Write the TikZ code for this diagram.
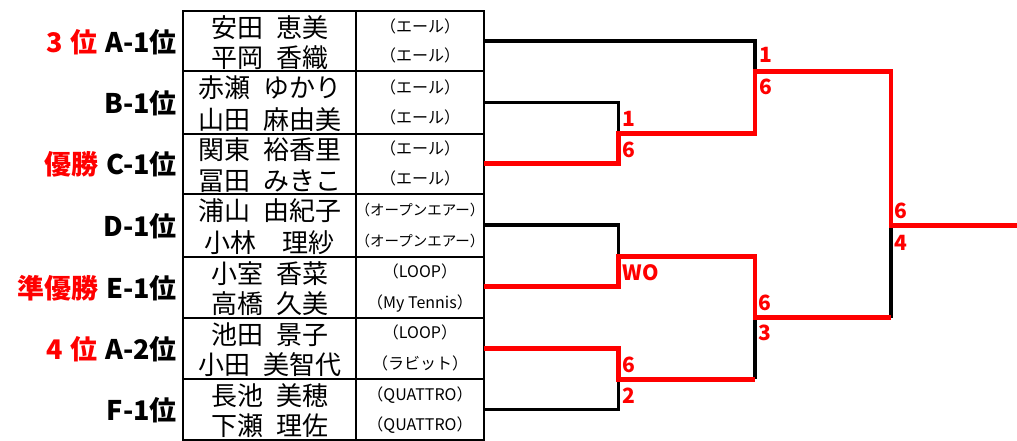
\documentclass[tikz,border=0pt]{standalone}
\usepackage{fontspec}
\setmainfont{Noto Sans CJK JP}
\begin{document}
\begin{tikzpicture}[x=1pt,y=-1pt,
  tbl/.style={line width=2pt, black},
  lose/.style={line width=3.3pt, black},
  win/.style={line width=4.7pt, red},
  nm/.style={font=\fontsize{26}{26}\selectfont, inner sep=0, text height=22.4pt, text depth=2.6pt, anchor=center},
  club/.style={font=\fontsize{16}{16}\selectfont, inner sep=0, text height=13.8pt, text depth=1.6pt, anchor=center},
  clubs/.style={font=\fontsize{14.5}{14.5}\selectfont, inner sep=0, text height=12.5pt, text depth=1.5pt, anchor=center},
  lbl/.style={font=\bfseries\fontsize{27}{27}\selectfont, inner sep=0, text height=23.2pt, text depth=2.7pt, anchor=east},
  sc/.style={font=\bfseries\fontsize{21}{21}\selectfont, text=red, inner sep=0, anchor=west}]
\useasboundingbox (0,0) rectangle (1017,441);
% table
\draw[tbl] (183,11) rectangle (483.5,440);
\draw[tbl] (356,11) -- (356,440);
\foreach \y in {71.3,133.7,194.3,257,318,379.3}
  \draw[tbl] (183,\y) -- (483.5,\y);
% names
\node[nm] (n1)  at (269.5,27.3)  {安田\hspace{0.5em}恵美};
\node[nm] (n2)  at (269.5,57.2)  {平岡\hspace{0.5em}香織};
\node[nm] (n3)  at (269.5,88.0)  {赤瀬\hspace{0.5em}ゆかり};
\node[nm] (n4)  at (269.5,119.1) {山田\hspace{0.5em}麻由美};
\node[nm] (n5)  at (269.5,149.9) {関東\hspace{0.5em}裕香里};
\node[nm] (n6)  at (269.5,180.1) {冨田\hspace{0.5em}みきこ};
\node[nm] (n7)  at (269.5,211.0) {浦山\hspace{0.5em}由紀子};
\node[nm] (n8)  at (269.5,242.3) {小林　理紗};
\node[nm] (n9)  at (269.5,273.3) {小室\hspace{0.5em}香菜};
\node[nm] (n10) at (269.5,303.8) {高橋\hspace{0.5em}久美};
\node[nm] (n11) at (269.5,334.3) {池田\hspace{0.5em}景子};
\node[nm] (n12) at (269.5,365.0) {小田\hspace{0.5em}美智代};
\node[nm] (n13) at (269.5,395.6) {長池\hspace{0.5em}美穂};
\node[nm] (n14) at (269.5,425.8) {下瀬\hspace{0.5em}理佐};
% clubs
\node[club] (c1)  at (420,26.7)  {（エール）};
\node[club] (c2)  at (420,55.7)  {（エール）};
\node[club] (c3)  at (420,87.5)  {（エール）};
\node[club] (c4)  at (420,117.6) {（エール）};
\node[club] (c5)  at (420,148.4) {（エール）};
\node[club] (c6)  at (420,178.6) {（エール）};
\node[clubs] (c7)  at (420,209.5) {（オープンエアー）};
\node[clubs] (c8)  at (420,240.8) {（オープンエアー）};
\node[club] (c9)  at (420,271.8) {（LOOP）};
\node[club] (c10) at (420,302.3) {（My Tennis）};
\node[club] (c11) at (420,332.8) {（LOOP）};
\node[club] (c12) at (420,363.5) {（ラビット）};
\node[club] (c13) at (420,394.1) {（QUATTRO）};
\node[club] (c14) at (420,424.3) {（QUATTRO）};
% left labels
\node[lbl] (l1) at (177,42)    {{\color{red}3\hspace{0.3em}位}\hspace{0.28em}A-1位};
\node[lbl] (l2) at (177,103.7) {B-1位};
\node[lbl] (l3) at (177,164.7) {{\color{red}優勝}\hspace{0.28em}C-1位};
\node[lbl] (l4) at (177,226)   {D-1位};
\node[lbl] (l5) at (177,287.8) {{\color{red}準優勝}\hspace{0.28em}E-1位};
\node[lbl] (l6) at (177,349.5) {{\color{red}4\hspace{0.3em}位}\hspace{0.28em}A-2位};
\node[lbl] (l7) at (177,410.3) {F-1位};
% bracket coordinates
\coordinate (tA) at (483.5,41);
\coordinate (tB) at (483.5,102.7);
\coordinate (tC) at (483.5,163.7);
\coordinate (tD) at (483.5,225);
\coordinate (tE) at (483.5,286.8);
\coordinate (tG) at (483.5,348.5);
\coordinate (tF) at (483.5,409.3);
\coordinate (j1) at (618.5,133.5);
\coordinate (j2) at (618.5,256.5);
\coordinate (j3) at (618.5,379.2);
\coordinate (s1) at (755,71.7);
\coordinate (s2) at (755,317.5);
\coordinate (f)  at (891,225.8);
\coordinate (e)  at (1017,225.8);
% losing segments
\draw[lose] (tA) -| (s1);
\draw[lose] (tB) -| (j1);
\draw[lose] (tD) -| (j2);
\draw[lose] (tF) -| (j3);
\draw[lose] (j3 -| s2) -- (s2);
\draw[lose] (s2 -| f) -- (f);
% winning paths
\draw[win] (tC) -| (j1) -| (s1) -| (f) -- (e);
\draw[win] (tE) -| (j2) -| (s2) -- (s2 -| f);
\draw[win] (tG) -| (j3) -- (j3 -| s2);
% scores
\node[sc] (a1) at (759,55)     {1};
\node[sc] (a2) at (759,87)     {6};
\node[sc] (b1) at (622.5,119)  {1};
\node[sc] (b2) at (622.5,149.5){6};
\node[sc] (d1) at (622.5,272.5){WO};
\node[sc] (g1) at (758,302.5)  {6};
\node[sc] (g2) at (758,332.5)  {3};
\node[sc] (h1) at (622.5,364.5){6};
\node[sc] (h2) at (622.5,395.5){2};
\node[sc] (k1) at (894,211)    {6};
\node[sc] (k2) at (894,242.5)  {4};
\end{tikzpicture}
\end{document}
